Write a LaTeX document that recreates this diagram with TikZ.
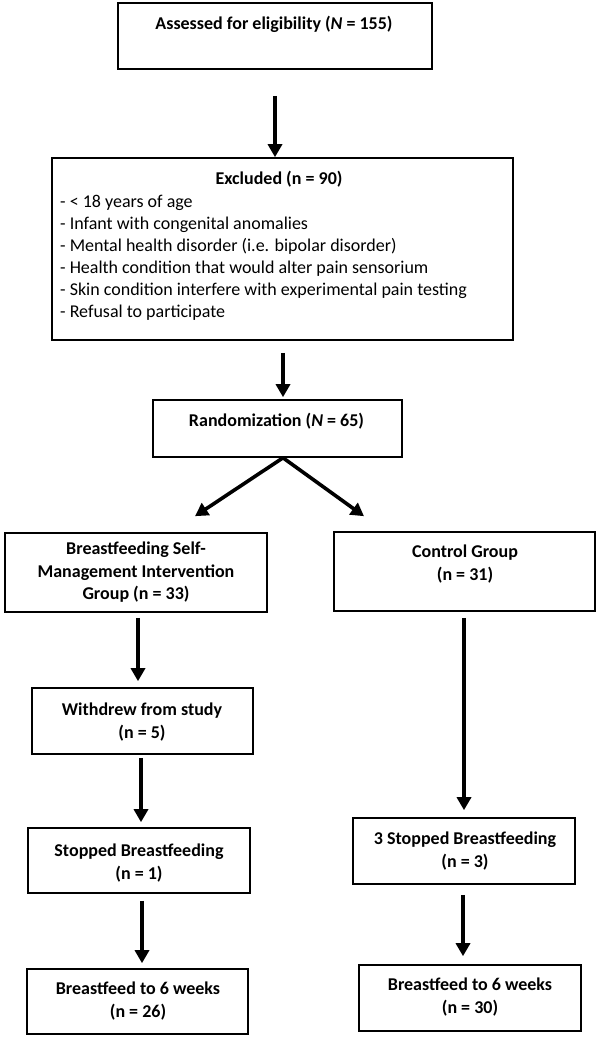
\documentclass[tikz,border=0pt]{standalone}
\usepackage{fontspec}
\setmainfont{Carlito}
\usetikzlibrary{arrows.meta}
\begin{document}
\begin{tikzpicture}[x=1pt,y=-1pt,
  box/.style={draw, line width=1.6pt, rectangle, inner sep=0pt},
  lbl/.style={anchor=north, align=center, inner sep=0pt, font=\bfseries\fontsize{18}{22.5}\selectfont},
  lst/.style={anchor=north west, align=left, inner sep=0pt, font=\fontsize{18}{22}\selectfont},
  arr/.style={line width=3.6pt, -{Triangle[length=13pt,width=14pt]}}]
\useasboundingbox (0,0) rectangle (600,1040);
% boxes
\node[box, minimum width=314pt, minimum height=66pt] (b1) at (275,36) {};
\node[box, minimum width=461pt, minimum height=182pt] (b2) at (282.5,249) {};
\node[box, minimum width=249pt, minimum height=57pt] (b3) at (277.5,428.5) {};
\node[box, minimum width=262pt, minimum height=79pt] (L1) at (136,572.5) {};
\node[box, minimum width=261pt, minimum height=79pt] (R1) at (464.5,571.5) {};
\node[box, minimum width=221pt, minimum height=66pt] (L2) at (142.5,721) {};
\node[box, minimum width=222pt, minimum height=65pt] (L3) at (139,860.5) {};
\node[box, minimum width=221pt, minimum height=65pt] (L4) at (137.5,1001.5) {};
\node[box, minimum width=222pt, minimum height=66pt] (R2) at (464,851) {};
\node[box, minimum width=222pt, minimum height=66pt] (R3) at (470,998) {};
% texts
\node[lbl] (t1) at (274,16) {Assessed for eligibility (\textit{N} = 155)};
\node[lbl] (t2h) at (279,171) {Excluded (n = 90)};
\node[lst] (t2l) at (60,195) {- < 18 years of age\\- Infant with congenital anomalies\\- Mental health disorder (i.e. bipolar disorder)\\- Health condition that would alter pain sensorium\\- Skin condition interfere with experimental pain testing\\- Refusal to participate};
\node[lbl] (t3) at (276.5,413) {Randomization (\textit{N} = 65)};
\node[lbl] (tL1) at (136,542) {Breastfeeding Self-\\Management Intervention\\Group (n = 33)};
\node[lbl] (tR1) at (465,545) {Control Group\\(n = 31)};
\node[lbl] (tL2) at (142,703) {Withdrew from study\\(n = 5)};
\node[lbl] (tL3) at (139,844) {Stopped Breastfeeding\\(n = 1)};
\node[lbl] (tL4) at (138,982) {Breastfeed to 6 weeks\\(n = 26)};
\node[lbl] (tR2) at (465,832) {3 Stopped Breastfeeding\\(n = 3)};
\node[lbl] (tR3) at (470,978) {Breastfeed to 6 weeks\\(n = 30)};
% connectors
\draw[arr] ([yshift=-26pt]b1.south) -- ([xshift=-7.5pt]b2.north);
\draw[arr] ([xshift=0.5pt,yshift=-12pt]b2.south) -- ([xshift=5.5pt,yshift=2pt]b3.north);
\draw[arr] ([xshift=5.5pt]b3.south) -- ([xshift=59pt,yshift=16pt]L1.north);
\draw[arr] ([xshift=5.5pt]b3.south) -- ([xshift=-100.5pt,yshift=15pt]R1.north);
\draw[arr] ([xshift=2pt,yshift=-5pt]L1.south) -- ([xshift=-4.5pt,yshift=6pt]L2.north);
\draw[arr] ([xshift=-1.5pt,yshift=-3pt]L2.south) -- ([xshift=2pt,yshift=5pt]L3.north);
\draw[arr] ([xshift=3pt,yshift=-7pt]L3.south) -- ([xshift=4.5pt,yshift=5pt]L4.north);
\draw[arr] ([xshift=-0.5pt,yshift=-6pt]R1.south) -- ([yshift=7pt]R2.north);
\draw[arr] ([xshift=-1pt,yshift=-10pt]R2.south) -- ([xshift=-7pt,yshift=8pt]R3.north);
\end{tikzpicture}
\end{document}
